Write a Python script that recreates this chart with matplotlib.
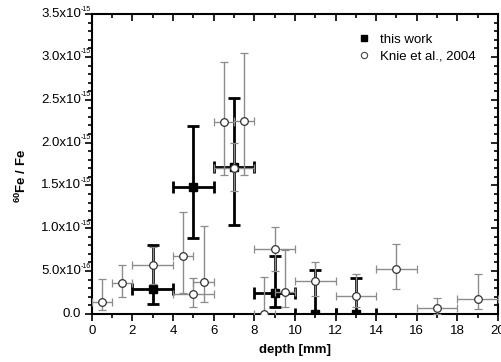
import numpy as np
import matplotlib.pyplot as plt
from matplotlib.ticker import MultipleLocator
from matplotlib.lines import Line2D

plt.rcParams['font.family'] = ['Liberation Sans', 'DejaVu Sans']
plt.rcParams['mathtext.fontset'] = 'custom'
plt.rcParams['mathtext.rm'] = 'Liberation Sans'
plt.rcParams['mathtext.bf'] = 'Liberation Sans:bold'

# this work (values in units of 1e-15)
tw_x = [3, 5, 7, 9, 11, 13]
tw_xlo = [2, 4, 6, 8, 10, 12]
tw_xhi = [4, 6, 8, 10, 12, 14]
tw_y = [0.29, 1.48, 1.72, 0.245, 0.0, 0.0]
tw_ylo = [0.11, 0.89, 1.04, 0.08, 0.0, 0.0]
tw_yhi = [0.80, 2.19, 2.52, 0.68, 0.51, 0.42]

# Knie et al., 2004
kn_x = [0.5, 1.5, 3, 4.5, 5, 5.5, 6.5, 7, 7.5, 8.5, 9, 9.5, 11, 13, 15, 17, 19]
kn_xlo = [0, 1, 2, 4, 4, 5, 6, 6, 7, 8, 8, 9, 10, 12, 14, 16, 18]
kn_xhi = [1, 2, 4, 5, 6, 6, 7, 8, 8, 9, 10, 10, 12, 14, 16, 18, 20]
kn_y = [0.14, 0.36, 0.57, 0.68, 0.23, 0.37, 2.24, 1.70, 2.25, 0.0, 0.76, 0.26, 0.385, 0.21, 0.52, 0.07, 0.175]
kn_ylo = [0.05, 0.20, 0.35, 0.24, 0.08, 0.14, 1.62, 1.43, 1.62, 0.0, 0.50, 0.08, 0.21, 0.08, 0.29, 0.0, 0.06]
kn_yhi = [0.41, 0.57, 0.78, 1.19, 0.42, 1.03, 2.94, 1.99, 3.05, 0.43, 1.01, 0.74, 0.61, 0.46, 0.81, 0.19, 0.47]

ytick_vals = [0.0, 0.5, 1.0, 1.5, 2.0, 2.5, 3.0, 3.5]
ytick_main = ['0.0', '5.0x10', '1.0x10', '1.5x10', '2.0x10', '2.5x10', '3.0x10', '3.5x10']
ytick_exp = ['', '-16', '-15', '-15', '-15', '-15', '-15', '-15']

def errs(v, lo, hi, scale=1.0):
    v = np.array(v); lo = np.array(lo); hi = np.array(hi)
    return [(v - lo) * scale, (hi - v) * scale]

s = 1e-15
fig = plt.figure(figsize=(5.02, 3.62), dpi=100)
ax = fig.add_axes([0.183, 0.133, 0.809, 0.828])

ax.errorbar(tw_x, np.array(tw_y) * s, yerr=errs(tw_y, tw_ylo, tw_yhi, s),
            xerr=errs(tw_x, tw_xlo, tw_xhi), fmt='s', color='black', ms=5.5,
            elinewidth=2, capsize=4.3, capthick=2, zorder=3)
ax.errorbar(kn_x, np.array(kn_y) * s, yerr=errs(kn_y, kn_ylo, kn_yhi, s),
            xerr=errs(kn_x, kn_xlo, kn_xhi), fmt='o', mfc='white', mec='#333333',
            ms=5.5, mew=0.9, ecolor='#8c8c8c', elinewidth=1, capsize=3, capthick=1,
            zorder=4)

ax.set_xlim(0, 20)
ax.set_ylim(0, 3.5e-15)
ax.xaxis.set_major_locator(MultipleLocator(2))
ax.xaxis.set_minor_locator(MultipleLocator(1))
ax.yaxis.set_major_locator(MultipleLocator(0.5e-15))
ax.yaxis.set_minor_locator(MultipleLocator(0.1e-15))

for sp in ax.spines.values():
    sp.set_linewidth(1.5)
ax.tick_params(which='both', direction='out', labelsize=9.5, width=1.2, top=True, right=True)
ax.tick_params(which='major', length=5)
ax.tick_params(which='minor', length=3)
ax.tick_params(axis='x', pad=3)
ax.tick_params(axis='y', labelleft=False)
# mirrored ticks on top/right pointing inward
for t in ax.xaxis.get_major_ticks() + ax.xaxis.get_minor_ticks():
    t.tick2line.set_marker(3)
for t in ax.yaxis.get_major_ticks() + ax.yaxis.get_minor_ticks():
    t.tick2line.set_marker(0)

# y tick labels with small superscript exponents
ytr = ax.get_yaxis_transform()
for v, m, e in zip(ytick_vals, ytick_main, ytick_exp):
    ax.annotate(m, xy=(0, v * s), xycoords=ytr, xytext=(-11, 0), textcoords='offset pixels',
                ha='right', va='center', fontsize=9.5)
    if e:
        ax.annotate(e, xy=(0, v * s), xycoords=ytr, xytext=(-11, 5), textcoords='offset pixels',
                    ha='left', va='center', fontsize=5)

ax.set_xlabel('depth [mm]', fontsize=9.5, fontweight='bold', labelpad=5)
fig.text(21 / 502, 1 - 176 / 362, r'$^{\mathbf{60}}$Fe / Fe', rotation=90,
         ha='center', va='center', fontsize=9.5, fontweight='bold')

h = [Line2D([], [], ls='none', marker='s', color='black', ms=5),
     Line2D([], [], ls='none', marker='o', mfc='white', mec='#444444', ms=4.5, mew=0.8)]
ax.legend(h, ['this work', 'Knie et al., 2004'], loc='upper right',
          bbox_to_anchor=(0.968, 0.965), frameon=False, fontsize=9.5,
          handlelength=0.8, handletextpad=0.8, borderpad=0.2, labelspacing=0.35)

fig.savefig('out.png', dpi=100)
